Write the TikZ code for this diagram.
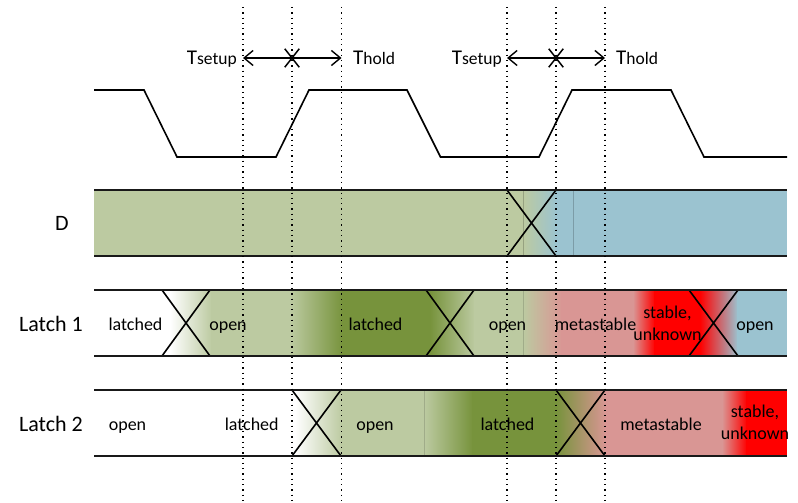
\documentclass[tikz,border=0pt]{standalone}
\usepackage{fontspec}
\setmainfont{Carlito}
\usetikzlibrary{arrows.meta,shapes.misc}
\definecolor{lgreen}{RGB}{188,202,161}
\definecolor{dgreen}{RGB}{119,147,60}
\definecolor{aqua}{RGB}{155,195,208}
\definecolor{meta}{RGB}{217,150,148}
\definecolor{hot}{RGB}{255,0,0}
\begin{document}
\begin{tikzpicture}[x=1pt,y=-1pt,
  edge/.style={line width=2pt, black!90},
  xing/.style={line width=1.6pt},
  wave/.style={line width=1.6pt, line join=miter},
  guide/.style={line width=1.3pt, dash pattern=on 1.3pt off 4pt},
  seam/.style={line width=0.7pt},
  sig/.style={font=\fontsize{22}{26}\selectfont, inner sep=0pt},
  state/.style={font=\fontsize{18}{22}\selectfont, inner sep=0pt, align=center},
  tlabel/.style={inner sep=0pt, font=\fontsize{21}{24}\selectfont},
  window/.style={line width=1.4pt,
    {Straight Barb[length=9pt,width=15pt]}-{Straight Barb[length=9pt,width=15pt]}},
  mark x/.style={cross out, draw, line width=1.5pt, inner sep=0pt,
    minimum width=13pt, minimum height=17pt}
]
\useasboundingbox (0,0) rectangle (798,503);

% ---------- D ----------
\fill[lgreen] (94,190) rectangle (523,256);
\fill[left color=lgreen, right color=aqua] (523,190) rectangle (557,256);
\fill[aqua] (556,190) rectangle (787,256);
\draw[seam, lgreen!80!black] (523,190) -- (523,256);
\draw[seam, aqua!80!black] (573,190) -- (573,256);
\draw[xing] (507,190) -- (556,256) (507,256) -- (556,190);

% ---------- Latch 1 ----------
\fill[left color=white, right color=lgreen] (170,290) rectangle (212,356);
\fill[lgreen] (211,290) rectangle (291,356);
\fill[left color=lgreen, right color=dgreen] (290,290) rectangle (343,356);
\fill[dgreen] (342,290) rectangle (431,356);
\fill[left color=dgreen, right color=lgreen] (430,290) rectangle (475,356);
\fill[lgreen] (474,290) rectangle (524,356);
\fill[left color=lgreen, right color=meta] (523,290) rectangle (562,356);
\fill[meta] (561,290) rectangle (634,356);
\fill[left color=meta, right color=hot] (633,290) rectangle (655,356);
\fill[hot] (654,290) rectangle (701,356);
\fill[left color=hot, right color=aqua] (700,290) rectangle (738,356);
\fill[aqua] (737,290) rectangle (787,356);
\draw[seam, lgreen!85!black] (523,290) -- (523,356);
\draw[xing] (162,290) -- (210,356) (162,356) -- (210,290);
\draw[xing] (426,290) -- (474,356) (426,356) -- (474,290);
\draw[xing] (689,290) -- (738,356) (689,356) -- (738,290);

% ---------- Latch 2 ----------
\fill[left color=white, right color=lgreen] (295,390) rectangle (342,456);
\fill[lgreen] (341,390) rectangle (425,456);
\fill[left color=lgreen, right color=dgreen] (424,390) rectangle (473,456);
\fill[dgreen] (472,390) rectangle (557,456);
\fill[left color=dgreen, right color=meta] (556,390) rectangle (606,456);
\fill[meta] (605,390) rectangle (723,456);
\fill[left color=meta, right color=hot] (722,390) rectangle (747,456);
\fill[hot] (746,390) rectangle (787,456);
\draw[seam, lgreen!85!black] (424,390) -- (424,456);
\draw[xing] (292,390) -- (341,456) (292,456) -- (341,390);
\draw[xing] (556,390) -- (605,456) (556,456) -- (605,390);

% bar borders
\draw[edge] (94,190) -- (787,190) (94,256) -- (787,256);
\draw[edge] (94,290) -- (787,290) (94,356) -- (787,356);
\draw[edge] (94,390) -- (787,390) (94,456) -- (787,456);

% ---------- clock ----------
\draw[wave] (94,90) -- (144,90) -- (177,157) -- (276,157) -- (309,90)
  -- (407,90) -- (440.5,157) -- (539,157) -- (572,90) -- (671,90)
  -- (704,157) -- (787,157);

% ---------- signal names ----------
\node[sig, anchor=base] (nD)  at (62,230)   {D};
\node[sig, anchor=base] (nL1) at (51,331.5) {Latch 1};
\node[sig, anchor=base] (nL2) at (51,431.5) {Latch 2};

% ---------- state labels ----------
\node[state, anchor=base] (a1) at (135.5,330) {latched};
\node[state, anchor=base] (a2) at (228,330)   {open};
\node[state, anchor=base] (a3) at (375.5,330) {latched};
\node[state, anchor=base] (a4) at (507.5,330) {open};
\node[state, anchor=base] (a5) at (595.5,330) {metastable};
\node[state] (a6) at (667.5,323.8) {stable,\\unknown};
\node[state, anchor=base] (a7) at (755,330)   {open};

\node[state, anchor=base] (b1) at (127.5,430) {open};
\node[state, anchor=base] (b2) at (251.7,430) {latched};
\node[state, anchor=base] (b3) at (375,430)   {open};
\node[state, anchor=base] (b4) at (507.5,430) {latched};
\node[state, anchor=base] (b5) at (661,430)   {metastable};
\node[state] (b6) at (755,422.8) {stable,\\unknown};

% ---------- timing guides ----------
\foreach \x [count=\i] in {243,292,341.5,507,556,605} {
  \coordinate (g\i t) at (\x,7);
  \coordinate (g\i b) at (\x,503);
  \coordinate (w\i) at (\x,58);
}
\foreach \i in {1,...,6} \draw[guide] (g\i t) -- (g\i b);

% setup / hold windows
\draw[window] (w1) -- (w3);
\node[mark x] (x1) at (w2) {};
\draw[window] (w4) -- (w6);
\node[mark x] (x2) at (w5) {};

\node[tlabel, anchor=base east] (s1) at (237,65)
  {T{\fontsize{17.5}{20}\selectfont setup}};
\node[tlabel, anchor=base west] (h1) at (353,65)
  {T{\fontsize{17.5}{20}\selectfont hold}};
\node[tlabel, anchor=base east] (s2) at (502,65)
  {T{\fontsize{17.5}{20}\selectfont setup}};
\node[tlabel, anchor=base west] (h2) at (616,65)
  {T{\fontsize{17.5}{20}\selectfont hold}};
\end{tikzpicture}
\end{document}
